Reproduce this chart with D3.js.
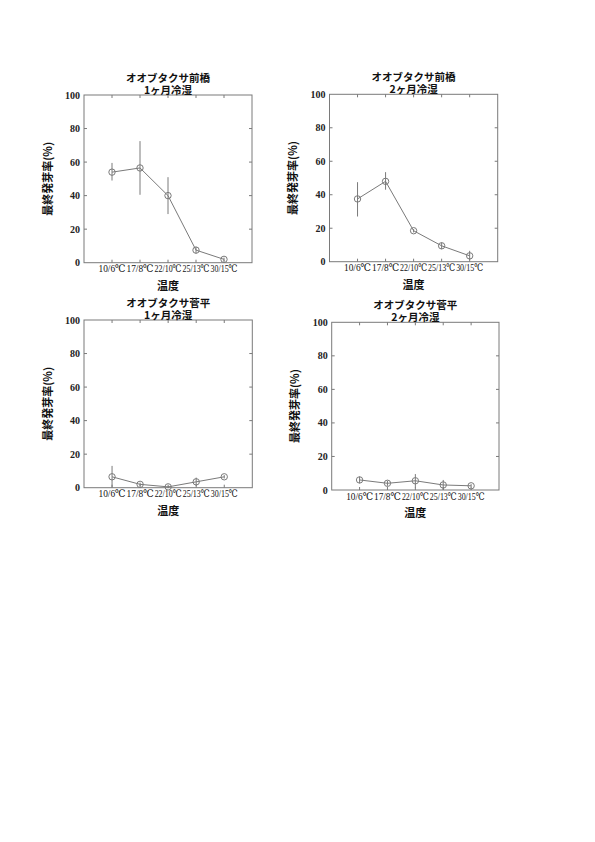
<!DOCTYPE html>
<html>
<head>
<meta charset="utf-8">
<script src="https://cdnjs.cloudflare.com/ajax/libs/d3/7.8.5/d3.min.js"></script>
<style>
body { margin: 0; background: #fff; }
svg { display: block; }
</style>
</head>
<body>
<svg id="chart" width="595" height="842"></svg>
<script>
// categories (temperature regimes)
var temps = ['10/6℃', '17/8℃', '22/10℃', '25/13℃', '30/15℃'];
var yTicks = [0, 20, 40, 60, 80, 100];

// panel titles
var titleSite = ['オオブタクサ前橋', 'オオブタクサ前橋', 'オオブタクサ菅平', 'オオブタクサ菅平'];
var titleCold = ['1ヶ月冷湿', '2ヶ月冷湿', '1ヶ月冷湿', '2ヶ月冷湿'];

// final germination rate (%), mean and error bar low / high
var meanVals = [
	[54, 56.5, 40, 7.5, 2],
	[37.5, 48, 18.5, 9.5, 3.5],
	[6.5, 2, 0.5, 3.5, 6.5],
	[6, 4, 5.5, 3, 2.5]
];
var errLow = [
	[49, 40.5, 29, 5.5, 1],
	[27, 43, 17.5, 7.5, 1],
	[0, 1, 0, 1, 5.5],
	[4, 2.5, 1.5, 0, 1.5]
];
var errHigh = [
	[59.5, 72.5, 51, 9.5, 3],
	[47.5, 53.5, 19.5, 11.5, 6.5],
	[13, 3, 1, 6, 7.5],
	[8, 5.5, 9.5, 6, 3.5]
];

// frame boxes for the 4 panels [left, top, right, bottom]
var frames = [
	[84, 95, 252, 262.7],
	[329.5, 94.3, 497.7, 261.7],
	[84, 320, 252.3, 487.7],
	[331.7, 322.3, 499, 490]
];

var svg = d3.select('#chart');
var serif = '"Liberation Serif", "DejaVu Serif", serif';
var jp = '"Noto Sans CJK JP", sans-serif';
var grey = '#7a7a7a';

var drawPanel = function(i)
{
	var f = frames[i];
	var x = d3.scaleLinear().domain([0, 6]).range([f[0], f[2]]);
	var y = d3.scaleLinear().domain([0, 100]).range([f[3], f[1]]);
	var g = svg.append('g');

	var pts = temps.map((t, k) => ({
		k: k + 1, v: meanVals[i][k], lo: errLow[i][k], hi: errHigh[i][k]
	}));

	// frame
	g.append('rect')
		.attr('x', f[0]).attr('y', f[1])
		.attr('width', f[2] - f[0]).attr('height', f[3] - f[1])
		.attr('fill', 'none').attr('stroke', grey).attr('stroke-width', 1);

	// inward ticks all round
	var tl = 3;
	yTicks.slice(1, -1).forEach((t) => {
		g.append('line').attr('x1', f[0]).attr('x2', f[0] + tl).attr('y1', y(t)).attr('y2', y(t)).attr('stroke', grey);
		g.append('line').attr('x1', f[2]).attr('x2', f[2] - tl).attr('y1', y(t)).attr('y2', y(t)).attr('stroke', grey);
	});
	pts.forEach((p) => {
		g.append('line').attr('x1', x(p.k)).attr('x2', x(p.k)).attr('y1', f[1]).attr('y2', f[1] + tl).attr('stroke', grey);
		g.append('line').attr('x1', x(p.k)).attr('x2', x(p.k)).attr('y1', f[3]).attr('y2', f[3] - tl).attr('stroke', grey);
	});

	// y tick labels
	g.selectAll('text.yt').data(yTicks).enter().append('text')
		.attr('class', 'yt')
		.attr('x', f[0] - 4).attr('y', (d) => y(d))
		.attr('dy', '0.35em')
		.attr('text-anchor', 'end')
		.attr('font-family', serif).attr('font-size', 10).attr('font-weight', 'bold')
		.attr('fill', '#222')
		.text((d) => d);

	// x tick labels, squeezed to fit the 28px slot
	var slot = x(1) - x(0);
	g.selectAll('text.xt').data(temps).enter().append('text')
		.attr('class', 'xt')
		.attr('x', (d, k) => x(k + 1)).attr('y', f[3] + 6)
		.attr('dy', '0.35em')
		.attr('text-anchor', 'middle')
		.attr('font-family', serif).attr('font-size', 10.5)
		.attr('fill', '#111')
		.text((d) => d)
		.each(function() {
			var w = this.getComputedTextLength();
			if (w > slot - 1) d3.select(this).attr('textLength', slot - 1).attr('lengthAdjust', 'spacingAndGlyphs');
		});

	// two-line title in one text element
	var cx = (f[0] + f[2]) / 2;
	var tt = g.append('text').attr('text-anchor', 'middle')
		.attr('font-family', jp).attr('font-weight', 'bold')
		.attr('font-size', 10.5).attr('fill', '#111');
	tt.append('tspan').attr('x', cx).attr('y', f[1] - 13).text(titleSite[i]);
	tt.append('tspan').attr('x', cx).attr('y', f[1] - 1.5).text(titleCold[i]);

	// axis titles
	g.append('text').attr('x', cx).attr('y', f[3] + 27)
		.attr('text-anchor', 'middle').attr('font-family', jp).attr('font-weight', 'bold')
		.attr('font-size', 11).attr('fill', '#111').text('温度');
	var cy = (f[1] + f[3]) / 2;
	g.append('text')
		.attr('transform', 'translate(' + (f[0] - 32.5) + ',' + cy + ') rotate(-90)')
		.attr('text-anchor', 'middle').attr('font-family', jp).attr('font-weight', 'bold')
		.attr('font-size', 11).attr('fill', '#111').text('最終発芽率(%)');

	// error bars
	g.selectAll('line.err').data(pts).enter().append('line')
		.attr('class', 'err')
		.attr('x1', (d) => x(d.k)).attr('x2', (d) => x(d.k))
		.attr('y1', (d) => y(d.lo)).attr('y2', (d) => y(d.hi))
		.attr('stroke', grey).attr('stroke-width', 1);

	// connecting line
	var line = d3.line().x((d) => x(d.k)).y((d) => y(d.v));
	g.append('path').datum(pts)
		.attr('d', line)
		.attr('fill', 'none').attr('stroke', grey).attr('stroke-width', 1);

	// markers
	g.selectAll('circle').data(pts).enter().append('circle')
		.attr('cx', (d) => x(d.k)).attr('cy', (d) => y(d.v))
		.attr('r', 3.2)
		.attr('fill', 'none').attr('stroke', grey).attr('stroke-width', 1);
};

d3.range(4).forEach(drawPanel);
</script>
</body>
</html>
